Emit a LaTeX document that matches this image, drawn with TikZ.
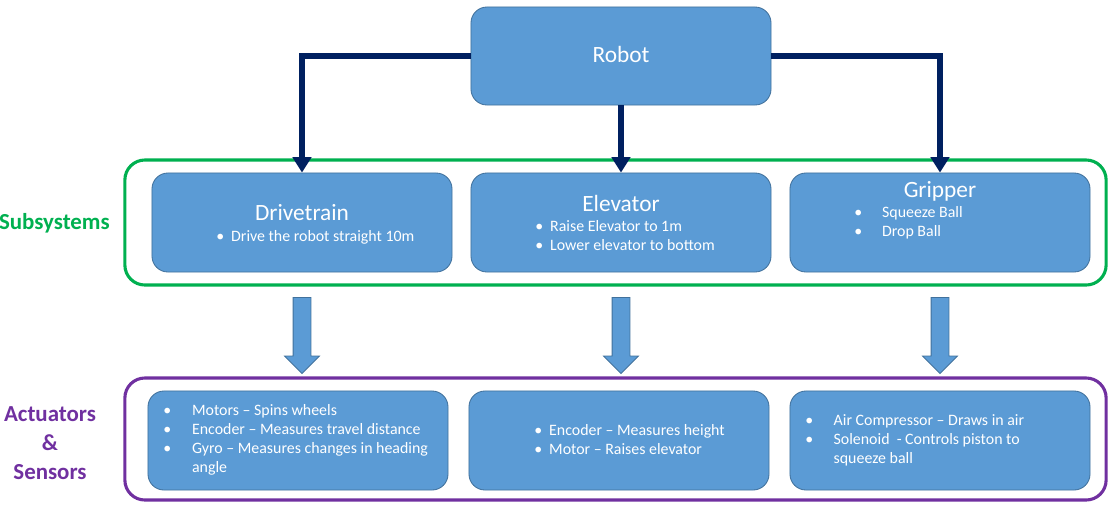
\documentclass[tikz,border=0pt]{standalone}
\usepackage{fontspec}
\setmainfont{Carlito}
\usepackage{array}
\usetikzlibrary{arrows.meta,shapes.arrows}

\definecolor{boxblue}{HTML}{5B9BD5}
\definecolor{boxedge}{HTML}{41719C}
\definecolor{navy}{HTML}{002060}
\definecolor{subgreen}{HTML}{00B050}
\definecolor{actpurple}{HTML}{7030A0}

% bullet list: #1 = room for the bullet, #2 = rows
\newcommand{\blist}[2]{\begin{tabular}{@{}p{#1}@{}l@{}}#2\end{tabular}}

\begin{document}
\begin{tikzpicture}[x=0.025cm,y=-0.025cm,
  box/.style={draw=boxedge,fill=boxblue,line width=0.6pt,rounded corners=0.4cm,
    minimum width=7.5cm,minimum height=2.475cm},
  title/.style={text=white,font=\fontsize{16.6}{19}\selectfont,anchor=base},
  items/.style={text=white,font=\fontsize{11.3}{13.5}\selectfont,anchor=west,inner sep=0pt},
  frame/.style={line width=2.2pt,rounded corners=0.5cm,minimum width=24.525cm},
  link/.style={navy,line width=4pt,-{Triangle[width=13pt,length=11pt]}},
  fat/.style={single arrow,draw=boxedge,fill=boxblue,line width=0.6pt,rotate=-90,
    minimum height=1.9cm,minimum width=0.85cm,single arrow head extend=0.2125cm,
    inner xsep=0pt,inner ysep=0.2125cm},
  group/.style={font=\bfseries\fontsize{16.3}{20.5}\selectfont,align=center,inner sep=0pt}]
  \useasboundingbox (0,0) rectangle (1113,516);

  % frames
  \node[frame,draw=subgreen,minimum height=3.125cm] (subframe) at (615.5,222.5) {};
  \node[frame,draw=actpurple,minimum height=3.05cm] (actframe) at (615.5,439) {};
  \node[group,text=subgreen,anchor=base east] (sublabel) at (110,229) {Subsystems};
  \node[group,text=actpurple] (actlabel) at (50,443) {Actuators\\\&\\Sensors};

  % top
  \node[box,minimum height=2.45cm] (robot) at (621,56) {};
  \node[title] (robott) at (621,62.5) {Robot};

  % subsystems
  \node[box] (drive) at (302,222.5) {};
  \node[box] (elev) at (621,222.5) {};
  \node[box] (grip) at (940,222.5) {};
  \node[title] (drivet) at (302,220.5) {Drivetrain};
  \node[title] (elevt) at (621,211.5) {Elevator};
  \node[title] (gript) at (940,197) {Gripper};
  \node[items] (drivei) at (216,238) {\blist{10.6pt}{\textbullet & Drive the robot straight 10m}};
  \node[items] (elevi) at (535,237.5) {\blist{10.6pt}{\textbullet & Raise Elevator to 1m\\
    \textbullet & Lower elevator to bottom}};
  \node[items] (gripi) at (854,223) {\blist{19.8pt}{\textbullet & Squeeze Ball\\
    \textbullet & Drop Ball}};

  \draw[link] (robot.west) -| (drive.north);
  \draw[link] (robot.south) -- (elev.north);
  \draw[link] (robot.east) -| (grip.north);

  % block arrows
  \node[fat] (drivedown) at (302,331) {};
  \node[fat] (elevdown) at (621,331) {};
  \node[fat] (gripdown) at (940,331) {};

  % actuators and sensors
  \node[box] (drivea) at (298,440.5) {};
  \node[box] (eleva) at (619,440.5) {};
  \node[box] (gripa) at (940,440.5) {};
  \node[items] (driveai) at (163,440.5) {\blist{20.5pt}{\textbullet & Motors -- Spins wheels\\
    \textbullet & Encoder -- Measures travel distance\\
    \textbullet & Gyro -- Measures changes in heading\\
    & angle}};
  \node[items] (elevai) at (534,441) {\blist{10.6pt}{\textbullet & Encoder -- Measures height\\
    \textbullet & Motor -- Raises elevator}};
  \node[items] (gripai) at (805,440.5) {\blist{20.2pt}{\textbullet & Air Compressor -- Draws in air\\
    \textbullet & Solenoid\ \ - Controls piston to\\
    & squeeze ball}};
\end{tikzpicture}
\end{document}
